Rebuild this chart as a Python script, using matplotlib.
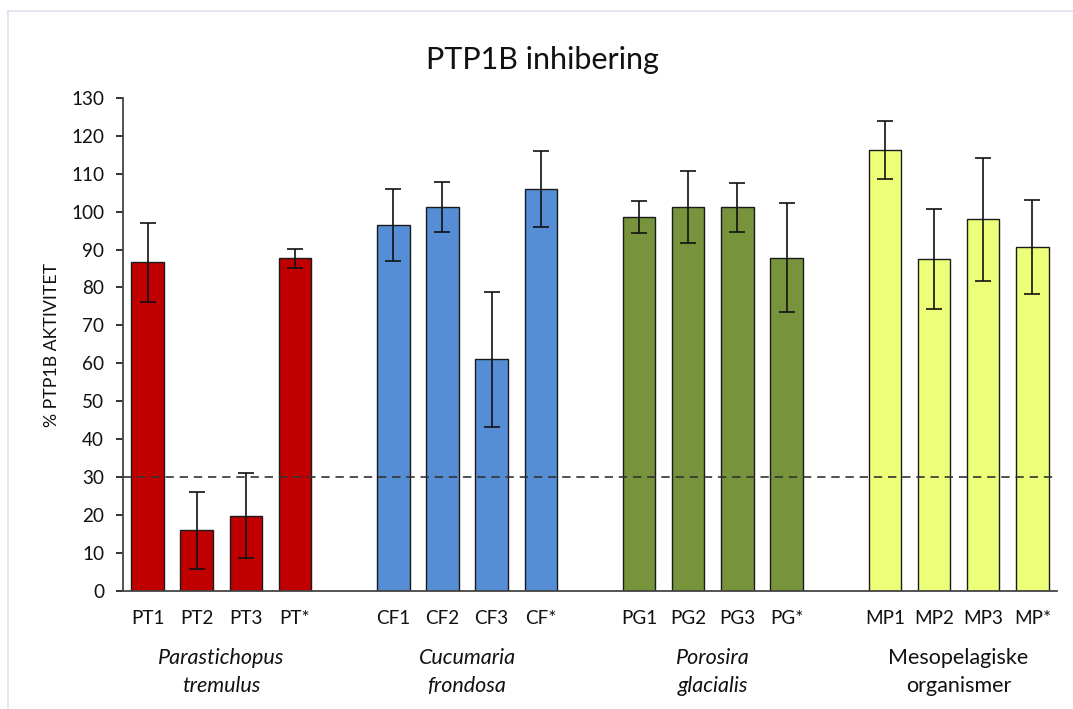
import matplotlib.pyplot as plt
from matplotlib.lines import Line2D
import numpy as np

plt.rcParams['font.family'] = ['Lato', 'DejaVu Sans']

# data
groups = ['PT', 'CF', 'PG', 'MP']
labels = [['PT1', 'PT2', 'PT3', 'PT*'],
          ['CF1', 'CF2', 'CF3', 'CF*'],
          ['PG1', 'PG2', 'PG3', 'PG*'],
          ['MP1', 'MP2', 'MP3', 'MP*']]
pt_vals = [86.6, 15.9, 19.8, 87.7]
pt_err = [10.4, 10.1, 11.1, 2.5]
cf_vals = [96.5, 101.2, 61.0, 106.0]
cf_err = [9.6, 6.6, 17.8, 10.1]
pg_vals = [98.5, 101.1, 101.1, 87.8]
pg_err = [4.2, 9.5, 6.4, 14.4]
mp_vals = [116.3, 87.6, 98.0, 90.7]
mp_err = [7.6, 13.2, 16.2, 12.5]
group_names = [('Parastichopus', 'tremulus', 'italic'),
               ('Cucumaria', 'frondosa', 'italic'),
               ('Porosira', 'glacialis', 'italic'),
               ('Mesopelagiske', 'organismer', 'normal')]
colors = ['#C00000', '#558ED5', '#77933C', '#EDFF79']
threshold = 30

values = [pt_vals, cf_vals, pg_vals, mp_vals]
errors = [pt_err, cf_err, pg_err, mp_err]

fig = plt.figure(figsize=(10.73, 7.09), dpi=100)
ax = fig.add_axes([0.1146, 0.1671, 0.985 - 0.1146, 0.8618 - 0.1671])

# light chart frame (left and top edges visible)
fig.add_artist(Line2D([8 / 1073, 1], [1 - 11 / 709, 1 - 11 / 709], transform=fig.transFigure,
                      color='#dde3ef', lw=1.2))
fig.add_artist(Line2D([8 / 1073, 8 / 1073], [0, 1 - 11 / 709], transform=fig.transFigure,
                      color='#dde3ef', lw=1.2))

ticks, ticklabels = [], []
for g in range(4):
    x = np.arange(4) + g * 5
    ax.bar(x, values[g], width=0.66, color=colors[g], edgecolor='#1a1a1a', linewidth=1.0,
           zorder=2)
    ax.errorbar(x, values[g], yerr=errors[g], fmt='none', ecolor='#111111', elinewidth=1.2,
                capsize=5.5, capthick=1.2, zorder=4)
    ticks += list(x)
    ticklabels += labels[g]
    cx = x.mean()
    top, bottom, style = group_names[g]
    ax.text(cx, -0.1484, top, transform=ax.get_xaxis_transform(), ha='center', va='baseline',
            fontsize=15.5, style=style, color='#111111')
    ax.text(cx, -0.2053, bottom, transform=ax.get_xaxis_transform(), ha='center', va='baseline',
            fontsize=15.5, style=style, color='#111111')

ax.axhline(threshold, color='#333333', lw=1.2, ls=(0, (5, 3.5)), zorder=3, clip_on=False)

ax.set_xlim(-0.5, 18.5)
ax.set_ylim(0, 130)
ax.set_yticks(range(0, 131, 10))
ax.set_xticks(ticks)
ax.set_xticklabels(ticklabels)
ax.tick_params(axis='x', length=0, pad=14, labelsize=13.6, colors='#111111')
ax.tick_params(axis='y', length=5, width=1.2, pad=8.6, labelsize=13.6, colors='#111111',
               direction='out')

for s in ['top', 'right']:
    ax.spines[s].set_visible(False)
for s in ['left', 'bottom']:
    ax.spines[s].set_color('#444444')
    ax.spines[s].set_linewidth(1.3)

fig.text(542 / 1073, 1 - 69.3 / 709, 'PTP1B inhibering', ha='center', va='baseline',
         fontsize=22, color='#111111')
fig.text(52 / 1073, 1 - 345 / 709, '% PTP1B AKTIVITET', rotation=90, ha='center',
         va='center', fontsize=12.8, color='#111111')

fig.savefig('out.png', dpi=100)
